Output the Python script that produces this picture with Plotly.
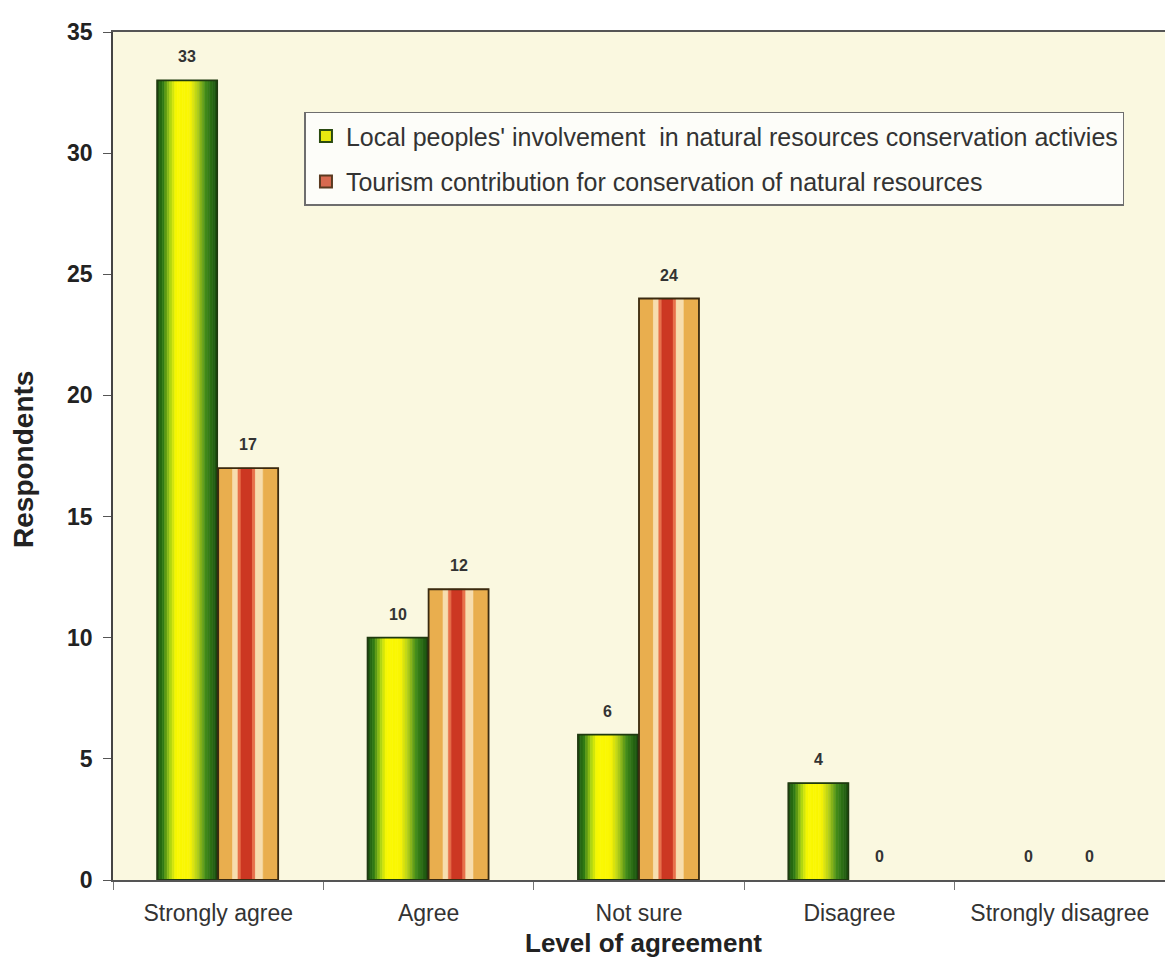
import numpy as np
import plotly.graph_objects as go

categories = ["Strongly agree", "Agree", "Not sure", "Disagree", "Strongly disagree"]
local_involvement = [33, 10, 6, 4, 0]
tourism_contribution = [17, 12, 24, 0, 0]
series_names = [
    "Local peoples' involvement  in natural resources conservation activies",
    "Tourism contribution for conservation of natural resources",
]
y_ticks = [0, 5, 10, 15, 20, 25, 30, 35]

SANS = "Liberation Sans, Arial, Helvetica, sans-serif"

x = np.arange(len(categories))

# styling for the two bar fills
green_stops = [(0.0, (25, 80, 15)), (0.10, (45, 120, 20)), (0.22, (170, 210, 20)),
               (0.32, (250, 250, 0)), (0.55, (250, 245, 5)), (0.68, (175, 205, 25)),
               (0.82, (60, 135, 25)), (1.0, (25, 80, 15))]
stripe_bands = [(0.24, "#E9AE4E"), (0.09, "#F7DDAE"), (0.05, "#E8704A"), (0.19, "#CC3722"),
                (0.05, "#E8704A"), (0.13, "#F7DDAE"), (0.25, "#E9AE4E")]

def interp(stops, t):
    for (t0, c0), (t1, c1) in zip(stops[:-1], stops[1:]):
        if t0 <= t <= t1:
            f = (t - t0) / (t1 - t0) if t1 > t0 else 0
            c = [round(a + (b - a) * f) for a, b in zip(c0, c1)]
            return "rgb(%d,%d,%d)" % tuple(c)
    return "rgb(%d,%d,%d)" % stops[-1][1]

BAR_W = 0.285
off_local = -0.29
off_tour = 0.0

def line_widths(vals, w):
    return [w if v > 0 else 0 for v in vals]

fig = go.Figure()

N = 24
for i in range(N):
    col = interp(green_stops, (i + 0.5) / N)
    fig.add_trace(go.Bar(x=x, y=local_involvement, offset=off_local + BAR_W * i / N,
                         width=BAR_W / N,
                         marker=dict(color=col, line=dict(color=col, width=line_widths(local_involvement, 0.6))),
                         showlegend=False, hoverinfo="skip"))
pos = 0.0
for frac, col in stripe_bands:
    fig.add_trace(go.Bar(x=x, y=tourism_contribution, offset=off_tour + BAR_W * pos,
                         width=BAR_W * frac,
                         marker=dict(color=col, line=dict(color=col, width=line_widths(tourism_contribution, 0.6))),
                         showlegend=False, hoverinfo="skip"))
    pos += frac

# outlines (no outline for empty bars)
for vals, off, lc in [(local_involvement, off_local, "#1F3A10"), (tourism_contribution, off_tour, "#3A2A10")]:
    fig.add_trace(go.Bar(x=x, y=vals, offset=off, width=BAR_W,
                         marker=dict(color="rgba(0,0,0,0)",
                                     line=dict(color=lc, width=line_widths(vals, 1.8))),
                         showlegend=False, hoverinfo="skip"))

# legend entries
fig.add_trace(go.Bar(x=x, y=[None] * len(x), name=series_names[0], legendgroup="a",
                     marker=dict(color="#E8E810", line=dict(color="#2A4A10", width=2))))
fig.add_trace(go.Bar(x=x, y=[None] * len(x), name=series_names[1], legendgroup="b",
                     marker=dict(color="#D86A50", line=dict(color="#5A3A20", width=2))))

annotations = []
for vals, off in [(local_involvement, off_local), (tourism_contribution, off_tour)]:
    for xi, v in zip(x, vals):
        annotations.append(dict(x=xi + off + BAR_W / 2, y=v, xref="x", yref="y",
                                text=f"<b>{v}</b>", showarrow=False, yanchor="bottom",
                                yshift=13, font=dict(family=SANS, size=16, color="#333333")))

annotations += [
    dict(text="<b>Level of agreement</b>", xref="paper", yref="paper", x=0.504, y=-0.0745,
         xanchor="center", yanchor="middle", showarrow=False,
         font=dict(family=SANS, size=26, color="#222222")),
    dict(text="<b>Respondents</b>", xref="paper", yref="paper", x=-0.085, y=0.496,
         xanchor="center", yanchor="middle", textangle=-90, showarrow=False,
         font=dict(family=SANS, size=28, color="#222222")),
]

fig.update_layout(
    width=1165, height=954,
    barmode="overlay",
    paper_bgcolor="white",
    plot_bgcolor="#FAF8E0",
    margin=dict(l=105, r=6, t=24, b=82),
    showlegend=True,
    legend=dict(x=0.182, y=0.906, xanchor="left", yanchor="top",
                bgcolor="#FDFDF9", bordercolor="#6E6E6E", borderwidth=1.5,
                font=dict(family=SANS, size=25, color="#333333"),
                tracegroupgap=10, itemwidth=30),
    xaxis=dict(range=[-0.5, len(categories) - 0.5], tickvals=x, ticktext=categories,
               ticks="", ticklabelstandoff=12,
               tickfont=dict(family=SANS, size=23, color="#333333"),
               showgrid=False, zeroline=False, showline=True, linecolor="#555555", linewidth=1.5,
               mirror=True,
               minor=dict(ticks="outside", tick0=-0.5, dtick=1, ticklen=8, tickcolor="#777777",
                          showgrid=False)),
    yaxis=dict(range=[0, 35], tickvals=y_ticks, ticks="outside", ticklen=8,
               tickcolor="#555555", ticklabelstandoff=6,
               tickfont=dict(family=SANS, size=23, color="#222222", weight="bold"),
               showgrid=False, zeroline=False, showline=True, linecolor="#444444", linewidth=1.5,
               mirror=True),
    annotations=annotations,
)

fig.write_html("out.html")
